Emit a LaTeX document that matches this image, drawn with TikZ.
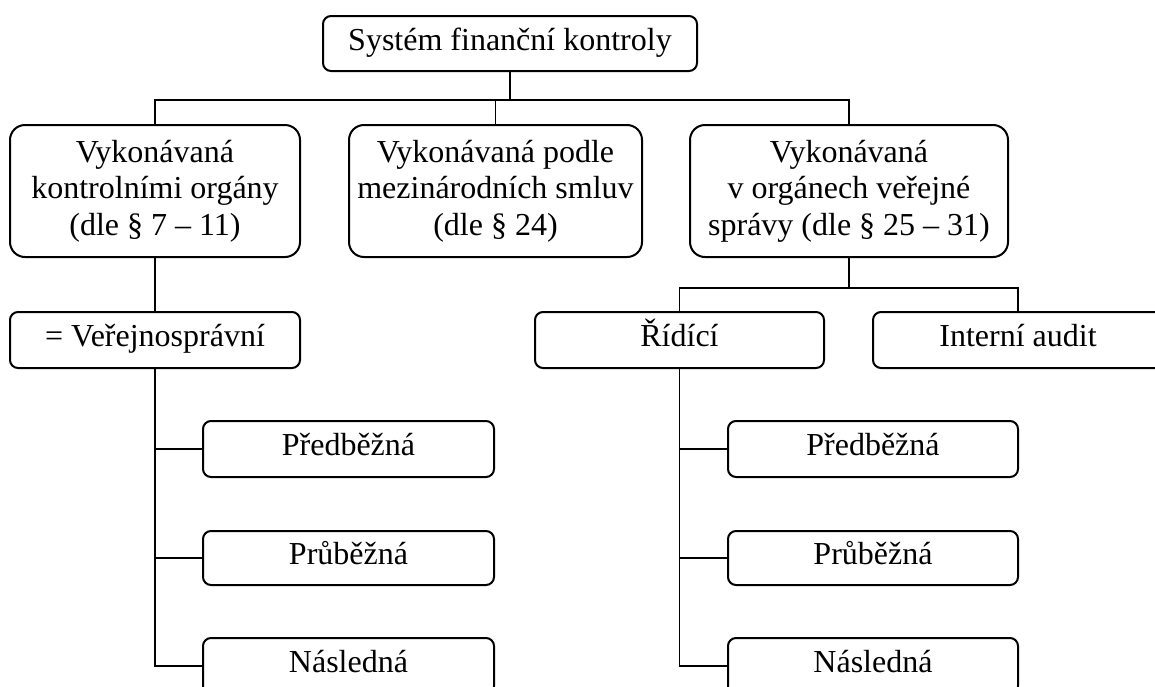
\documentclass[tikz,border=0pt]{standalone}
\usepackage{fontspec}
\setmainfont{Liberation Serif}
\begin{document}
\begin{tikzpicture}[x=0.5pt,y=-0.5pt,
  box/.style={draw, line width=1pt, rounded corners=4pt, inner sep=0pt, align=center,
    font=\fontsize{16}{18.3}\selectfont},
  onebox/.style={box, text height=10.5pt, text depth=4pt},
  bigbox/.style={box, rounded corners=7.5pt},
  conn/.style={line width=0.65pt}]
\useasboundingbox (0,0) rectangle (1155,686);
\node[onebox, minimum width=187pt, minimum height=27.5pt] (top) at (510,43.5) {Systém finanční kontroly};
\node[bigbox, minimum width=145pt, minimum height=66pt] (L) at (155,191) {Vykonávaná\\kontrolními orgány\\(dle § 7 – 11)};
\node[bigbox, minimum width=146.5pt, minimum height=66pt] (M) at (495.5,191) {Vykonávaná podle\\mezinárodních smluv\\(dle § 24)};
\node[bigbox, minimum width=159pt, minimum height=66pt] (R) at (849,191) {Vykonávaná\\v orgánech veřejné\\správy (dle § 25 – 31)};
\node[onebox, minimum width=145pt, minimum height=28pt] (V) at (155,340) {= Veřejnosprávní};
\node[onebox, minimum width=144.5pt, minimum height=28pt] (Ri) at (679.5,340) {Řídící};
\node[onebox, minimum width=145pt, minimum height=28pt] (IA) at (1018,340) {Interní audit};
\node[onebox, minimum width=145.5pt, minimum height=28pt] (LP1) at (348.5,449) {Předběžná};
\node[onebox, minimum width=145.5pt, minimum height=27pt] (LP2) at (348.5,558) {Průběžná};
\node[onebox, minimum width=145.5pt, minimum height=28pt] (LP3) at (348.5,666) {Následná};
\node[onebox, minimum width=145pt, minimum height=28pt] (RP1) at (873,449) {Předběžná};
\node[onebox, minimum width=145pt, minimum height=27pt] (RP2) at (873,558) {Průběžná};
\node[onebox, minimum width=145pt, minimum height=28pt] (RP3) at (873,666) {Následná};
\coordinate (hy) at (0,100);
\coordinate (hy2) at (0,288);
\draw[conn] (top.south) -- (top.south |- hy);
\draw[conn] (L.north) -- (L.north |- hy) -- (R.north |- hy) -- (R.north);
\draw[conn] (M.north) -- (M.north |- hy);
\draw[conn] (L.south) -- (V.north);
\draw[conn] (V.south) |- (LP3.west);
\draw[conn] (LP1.west) -- (LP1.west -| V.south);
\draw[conn] (LP2.west) -- (LP2.west -| V.south);
\draw[conn] (R.south) -- (R.south |- hy2);
\draw[conn] (Ri.north) -- (Ri.north |- hy2) -- (IA.north |- hy2) -- (IA.north);
\draw[conn] (Ri.south) |- (RP3.west);
\draw[conn] (RP1.west) -- (RP1.west -| Ri.south);
\draw[conn] (RP2.west) -- (RP2.west -| Ri.south);
\end{tikzpicture}
\end{document}
